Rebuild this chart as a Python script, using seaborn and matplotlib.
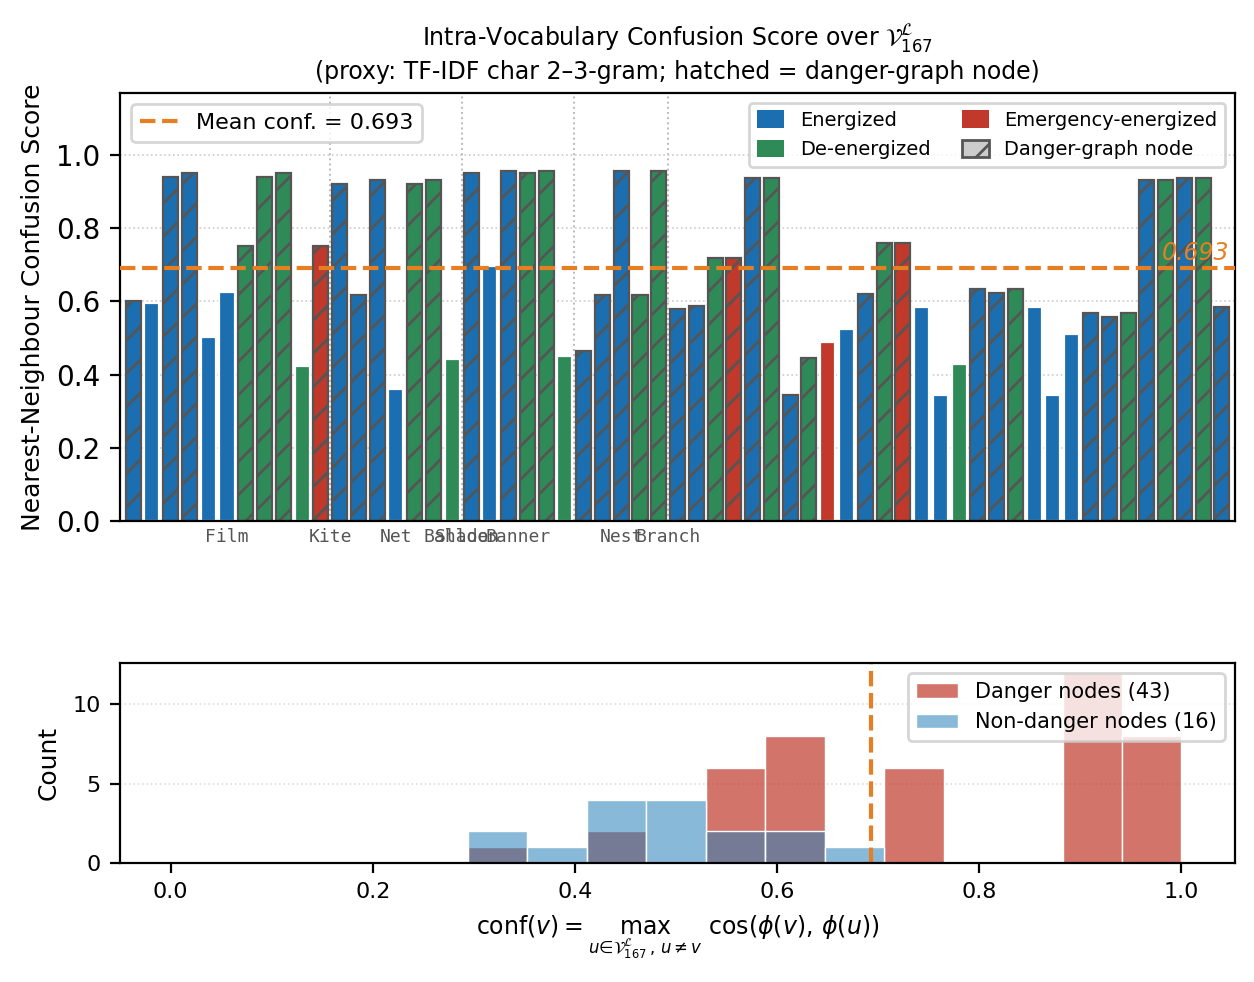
import numpy as np
import pandas as pd
import matplotlib
matplotlib.use("Agg")
import matplotlib.pyplot as plt
from matplotlib.patches import Patch
from matplotlib.lines import Line2D
import seaborn as sns

# ---------------- data ----------------
scores = [0.600, 0.597, 0.940, 0.951, 0.503, 0.625, 0.751, 0.940, 0.951, 0.423,
          0.751, 0.920, 0.617, 0.932, 0.361, 0.920, 0.932, 0.443, 0.951, 0.697,
          0.958, 0.951, 0.958, 0.451, 0.464, 0.617, 0.958, 0.617, 0.958, 0.579,
          0.587, 0.718, 0.718, 0.937, 0.937, 0.344, 0.446, 0.489, 0.525, 0.620,
          0.760, 0.760, 0.585, 0.344, 0.429, 0.634, 0.624, 0.634, 0.585, 0.344,
          0.511, 0.568, 0.557, 0.568, 0.932, 0.932, 0.937, 0.937, 0.585]
states = ["Energized", "Energized", "Energized", "Energized", "Energized", "Energized",
          "De-energized", "De-energized", "De-energized", "De-energized",
          "Emergency-energized", "Energized", "Energized", "Energized", "Energized",
          "De-energized", "De-energized", "De-energized", "Energized", "Energized",
          "Energized", "De-energized", "De-energized", "De-energized", "Energized",
          "Energized", "Energized", "De-energized", "De-energized", "Energized",
          "Energized", "De-energized", "Emergency-energized", "Energized", "De-energized",
          "Energized", "De-energized", "Emergency-energized", "Energized", "Energized",
          "De-energized", "Emergency-energized", "Energized", "Energized", "De-energized",
          "Energized", "Energized", "De-energized", "Energized", "Energized",
          "Energized", "Energized", "Energized", "De-energized", "Energized",
          "De-energized", "Energized", "De-energized", "Energized"]
danger = [1, 0, 1, 1, 0, 0, 1, 1, 1, 0,
          1, 1, 1, 1, 0, 1, 1, 0, 1, 0,
          1, 1, 1, 0, 1, 1, 1, 1, 1, 1,
          1, 1, 1, 1, 1, 1, 1, 0, 0, 1,
          1, 1, 0, 0, 0, 1, 1, 1, 0, 0,
          0, 1, 1, 1, 1, 1, 1, 1, 1]
label_slots = [5, 10.5, 14, 17.5, 17.5, 20.5, 26, 28.5]
label_names = ["Film", "Kite", "Net", "Balloon", "Shade", "Banner", "Nest", "Branch"]
group_breaks = [10.5, 17.5, 23.5, 28.5]
hist_bins = np.linspace(0, 1, 18)

state_order = ["Energized", "De-energized", "Emergency-energized"]
palette = {"Energized": "#1b6eb0", "De-energized": "#2e8b57", "Emergency-energized": "#c0392b"}
ORANGE = "#e67e22"

df = pd.DataFrame({"pos": np.arange(len(scores)), "score": scores,
                   "state": states, "danger": danger})
mean_conf = float(np.mean(scores))
danger_scores = df.loc[df.danger == 1, "score"].values
safe_scores = df.loc[df.danger == 0, "score"].values

# ---------------- figure ----------------
fig = plt.figure(figsize=(6.27, 4.91), dpi=200)
ax1 = fig.add_axes([0.0957, 0.4695, 0.8892, 0.4358])
ax2 = fig.add_axes([0.0957, 0.1212, 0.8892, 0.2036])

# top bar chart
ax1.set_axisbelow(True)
ax1.yaxis.grid(True, ls=":", color="#cccccc", lw=0.6)
for b in group_breaks:
    ax1.axvline(b, ls=":", color="#bbbbbb", lw=0.7, zorder=0)
sns.barplot(data=df, x="pos", y="score", hue="state", hue_order=state_order,
            palette=palette, dodge=False, width=0.8, saturation=1,
            edgecolor="white", linewidth=0.8, legend=False, ax=ax1, zorder=2)
for p in ax1.patches:
    i = int(round(p.get_x() + p.get_width() / 2))
    if 0 <= i < len(danger) and danger[i]:
        p.set_hatch("//")
        p.set_edgecolor("#555555")
        p.set_linewidth(0.8)

ax1.axhline(mean_conf, color=ORANGE, ls="--", lw=1.5, zorder=3)
ax1.text(0.995, mean_conf + 0.008, f"{mean_conf:.3f}", transform=ax1.get_yaxis_transform(),
         ha="right", va="bottom", color=ORANGE, fontstyle="italic", fontsize=8.5)

ax1.set_xlim(-0.7, len(scores) - 0.3)
ax1.set_ylim(0, 1.17)
ax1.set_yticks([0.0, 0.2, 0.4, 0.6, 0.8, 1.0])
ax1.set_xticks([])
for slot, name in zip(label_slots, label_names):
    ax1.annotate(name, xy=(slot, 0), xycoords=ax1.get_xaxis_transform(),
                 xytext=(0, -2.5), textcoords="offset points", ha="center", va="top",
                 fontfamily="DejaVu Sans Mono", fontsize=6.5, color="#555555")
ax1.tick_params(axis="y", labelsize=10)
ax1.set_xlabel("")
ax1.set_ylabel("Nearest-Neighbour Confusion Score", fontsize=9)
ax1.set_title("Intra-Vocabulary Confusion Score over $\\mathcal{V}^{\\mathcal{L}}_{167}$\n"
              "(proxy: TF-IDF char 2\u20133-gram; hatched = danger-graph node)",
              fontsize=8.5, pad=5)

leg1 = ax1.legend(handles=[Line2D([0], [0], color=ORANGE, ls="--", lw=1.5,
                                  label=f"Mean conf. = {mean_conf:.3f}")],
                  loc="upper left", fontsize=8, handlelength=1.7)
ax1.add_artist(leg1)
handles2 = [Patch(facecolor=palette["Energized"], label="Energized"),
            Patch(facecolor=palette["De-energized"], label="De-energized"),
            Patch(facecolor=palette["Emergency-energized"], label="Emergency-energized"),
            Patch(facecolor="#cccccc", edgecolor="#555555", hatch="//", label="Danger-graph node")]
ax1.legend(handles=handles2, loc="upper right", ncol=2, fontsize=7,
           handlelength=1.4, handleheight=1.0, columnspacing=1.6)

# bottom histogram
ax2.set_axisbelow(True)
ax2.yaxis.grid(True, ls=":", color="#dddddd", lw=0.6)
sns.histplot(x=danger_scores, bins=hist_bins, color="#c0392b", alpha=0.7,
             edgecolor="white", linewidth=0.5, ax=ax2,
             label=f"Danger nodes ({len(danger_scores)})")
sns.histplot(x=safe_scores, bins=hist_bins, color="#2980b9", alpha=0.55,
             edgecolor="white", linewidth=0.5, ax=ax2,
             label=f"Non-danger nodes ({len(safe_scores)})")
ax2.axvline(mean_conf, color=ORANGE, ls="--", lw=1.5)
ax2.set_xlim(-0.05, 1.053)
ax2.tick_params(labelsize=8)
ax2.set_ylabel("Count", fontsize=9)
ax2.set_xlabel(r"$\mathrm{conf}(v) = \max_{u \in \mathcal{V}^{\mathcal{L}}_{167},\, u \neq v}\ \cos(\phi(v),\, \phi(u))$",
               fontsize=8.5)
ax2.legend(loc="upper right", fontsize=7.5)

fig.savefig("out.png", dpi=200)
